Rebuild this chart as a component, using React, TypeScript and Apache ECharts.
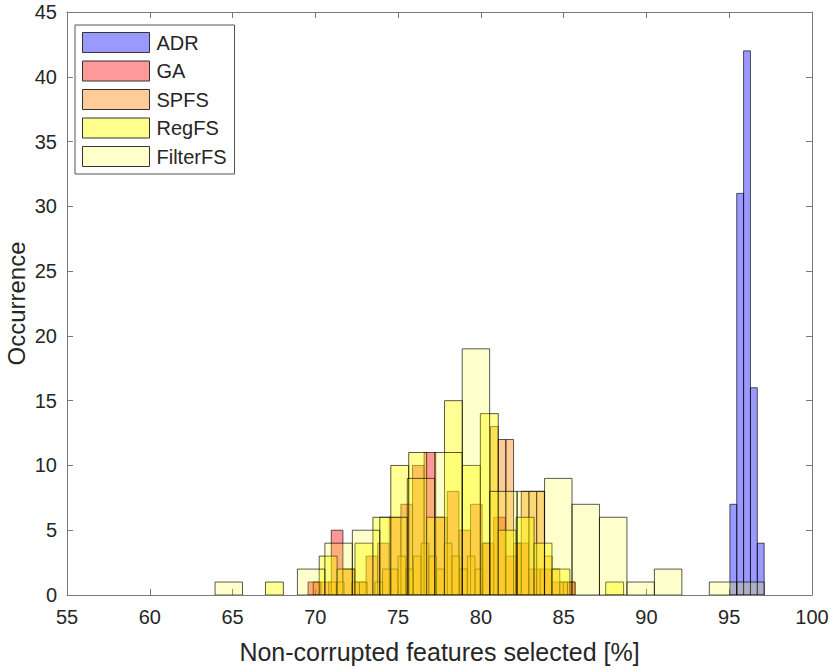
import React, { useEffect, useRef } from "react";
import * as echarts from "echarts";

// ---- Data ----
const seriesNames = ["ADR", "GA", "SPFS", "RegFS", "FilterFS"];

// ADR: bins start / width / counts
const adrStart = 95.04;
const adrWidth = 0.414;
const adrCounts = [7, 31, 42, 16, 4];

// GA
const gaStart = 69.562;
const gaWidth = 0.7009;
const gaCounts = [1, 1, 5, 2, 1, 3, 4, 6, 7, 10, 11, 6, 8, 5, 7, 4, 6, 3, 4, 2, 2, 1, 1];

// SPFS
const spfsStart = 69.875;
const spfsWidth = 0.4653;
const spfsCounts = [
  1, 0, 1, 1, 0, 1, 1, 0, 1, 2, 2, 3, 2, 3, 4, 3, 2, 4, 3, 2, 3, 2, 4, 13, 12, 12, 4, 8, 8, 8, 3, 2, 1, 1,
];

// RegFS
const regStart = 66.988;
const regWidth = 1.0816;
const regCounts = [1, 0, 0, 3, 2, 4, 6, 10, 11, 6, 15, 10, 14, 5, 6, 4, 2, 0, 0, 1];

// FilterFS
const filtStart = 63.943;
const filtWidth = 1.6586;
const filtCounts = [1, 0, 0, 2, 4, 5, 6, 9, 11, 19, 8, 8, 9, 7, 6, 1, 2, 0, 1, 1];

const xTicks = { min: 55, max: 100, step: 5 };
const yTicks = { min: 0, max: 45, step: 5 };

const faceColors = [
  "rgba(0,0,255,0.4)",
  "rgba(255,0,0,0.4)",
  "rgba(255,128,0,0.4)",
  "rgba(255,255,0,0.42)",
  "rgba(255,255,0,0.2)",
];
const legendColors = ["#9999ff", "#ff9999", "#ffcc99", "#ffff8c", "#ffffcc"];

function toBins(start: number, width: number, counts: number[]) {
  return counts
    .map((c, i) => [start + i * width, start + (i + 1) * width, c])
    .filter((d) => d[2] > 0);
}

const allBins = [
  toBins(adrStart, adrWidth, adrCounts),
  toBins(gaStart, gaWidth, gaCounts),
  toBins(spfsStart, spfsWidth, spfsCounts),
  toBins(regStart, regWidth, regCounts),
  toBins(filtStart, filtWidth, filtCounts),
];

const FONT = "'Liberation Sans', Arial, Helvetica, sans-serif";
const AXIS_COLOR = "#7a7a7a";
const TEXT_COLOR = "#262626";

export default function App() {
  const ref = useRef<HTMLDivElement>(null);

  useEffect(() => {
    document.body.style.margin = "0";
    if (!ref.current) return;
    const chart = echarts.init(ref.current, undefined, { renderer: "svg" });

    const series = seriesNames.map((name, si) => ({
      name,
      type: "custom",
      data: allBins[si],
      encode: { x: [0, 1], y: 2 },
      clip: true,
      itemStyle: { color: legendColors[si], borderColor: "#333", borderWidth: 1 },
      renderItem: (params: any, api: any) => {
        const x0 = api.value(0);
        const x1 = api.value(1);
        const h = api.value(2);
        const p0 = api.coord([x0, h]);
        const p1 = api.coord([x1, 0]);
        return {
          type: "rect",
          shape: { x: p0[0], y: p0[1], width: p1[0] - p0[0], height: p1[1] - p0[1] },
          style: { fill: faceColors[si], stroke: "rgba(0,0,0,0.65)", lineWidth: 1 },
        };
      },
    }));

    const baseX = {
      type: "value",
      min: xTicks.min,
      max: xTicks.max,
      interval: xTicks.step,
      splitLine: { show: false },
      axisLine: { show: true, onZero: false, lineStyle: { color: AXIS_COLOR, width: 1 } },
      axisTick: { show: true, inside: true, length: 6, lineStyle: { color: AXIS_COLOR } },
    };
    const baseY = {
      type: "value",
      min: yTicks.min,
      max: yTicks.max,
      interval: yTicks.step,
      splitLine: { show: false },
      axisLine: { show: true, onZero: false, lineStyle: { color: AXIS_COLOR, width: 1 } },
      axisTick: { show: true, inside: true, length: 6, lineStyle: { color: AXIS_COLOR } },
    };

    chart.setOption({
      animation: false,
      textStyle: { fontFamily: FONT },
      grid: { left: 67, right: 18, top: 12, bottom: 72, containLabel: false, outerBoundsMode: "none" },
      legend: {
        orient: "vertical",
        left: 75,
        top: 25,
        padding: [7, 8, 7, 7],
        itemGap: 7.5,
        itemWidth: 67,
        itemHeight: 20,
        backgroundColor: "#ffffff",
        borderColor: "#555",
        borderWidth: 1,
        borderRadius: 0,
        icon: "rect",
        selectedMode: false,
        textStyle: { fontSize: 20, color: TEXT_COLOR, fontFamily: FONT, padding: [0, 0, 0, 2] },
        data: seriesNames.map((n, i) => ({
          name: n,
          icon: "rect",
          itemStyle: { color: legendColors[i], borderColor: "#333", borderWidth: 1 },
        })),
      },
      xAxis: [
        {
          ...baseX,
          position: "bottom",
          name: "Non-corrupted features selected [%]",
          nameLocation: "middle",
          nameGap: 44,
          nameMoveOverlap: false,
          nameTextStyle: { fontSize: 25, lineHeight: 26, color: TEXT_COLOR, fontFamily: FONT },
          axisLabel: { show: true, fontSize: 20, lineHeight: 16, color: TEXT_COLOR, margin: 14, fontFamily: FONT },
        },
        { ...baseX, position: "top", axisLabel: { show: false } },
      ],
      yAxis: [
        {
          ...baseY,
          position: "left",
          name: "Occurrence",
          nameLocation: "middle",
          nameGap: 40,
          nameMoveOverlap: false,
          nameTextStyle: { fontSize: 24, lineHeight: 22, color: TEXT_COLOR, fontFamily: FONT },
          axisLabel: { show: true, fontSize: 20, lineHeight: 16, color: TEXT_COLOR, margin: 10, fontFamily: FONT },
        },
        { ...baseY, position: "right", axisLabel: { show: false } },
      ],
      series,
    });

    return () => chart.dispose();
  }, []);

  return <div ref={ref} style={{ width: 830, height: 667 }} />;
}
